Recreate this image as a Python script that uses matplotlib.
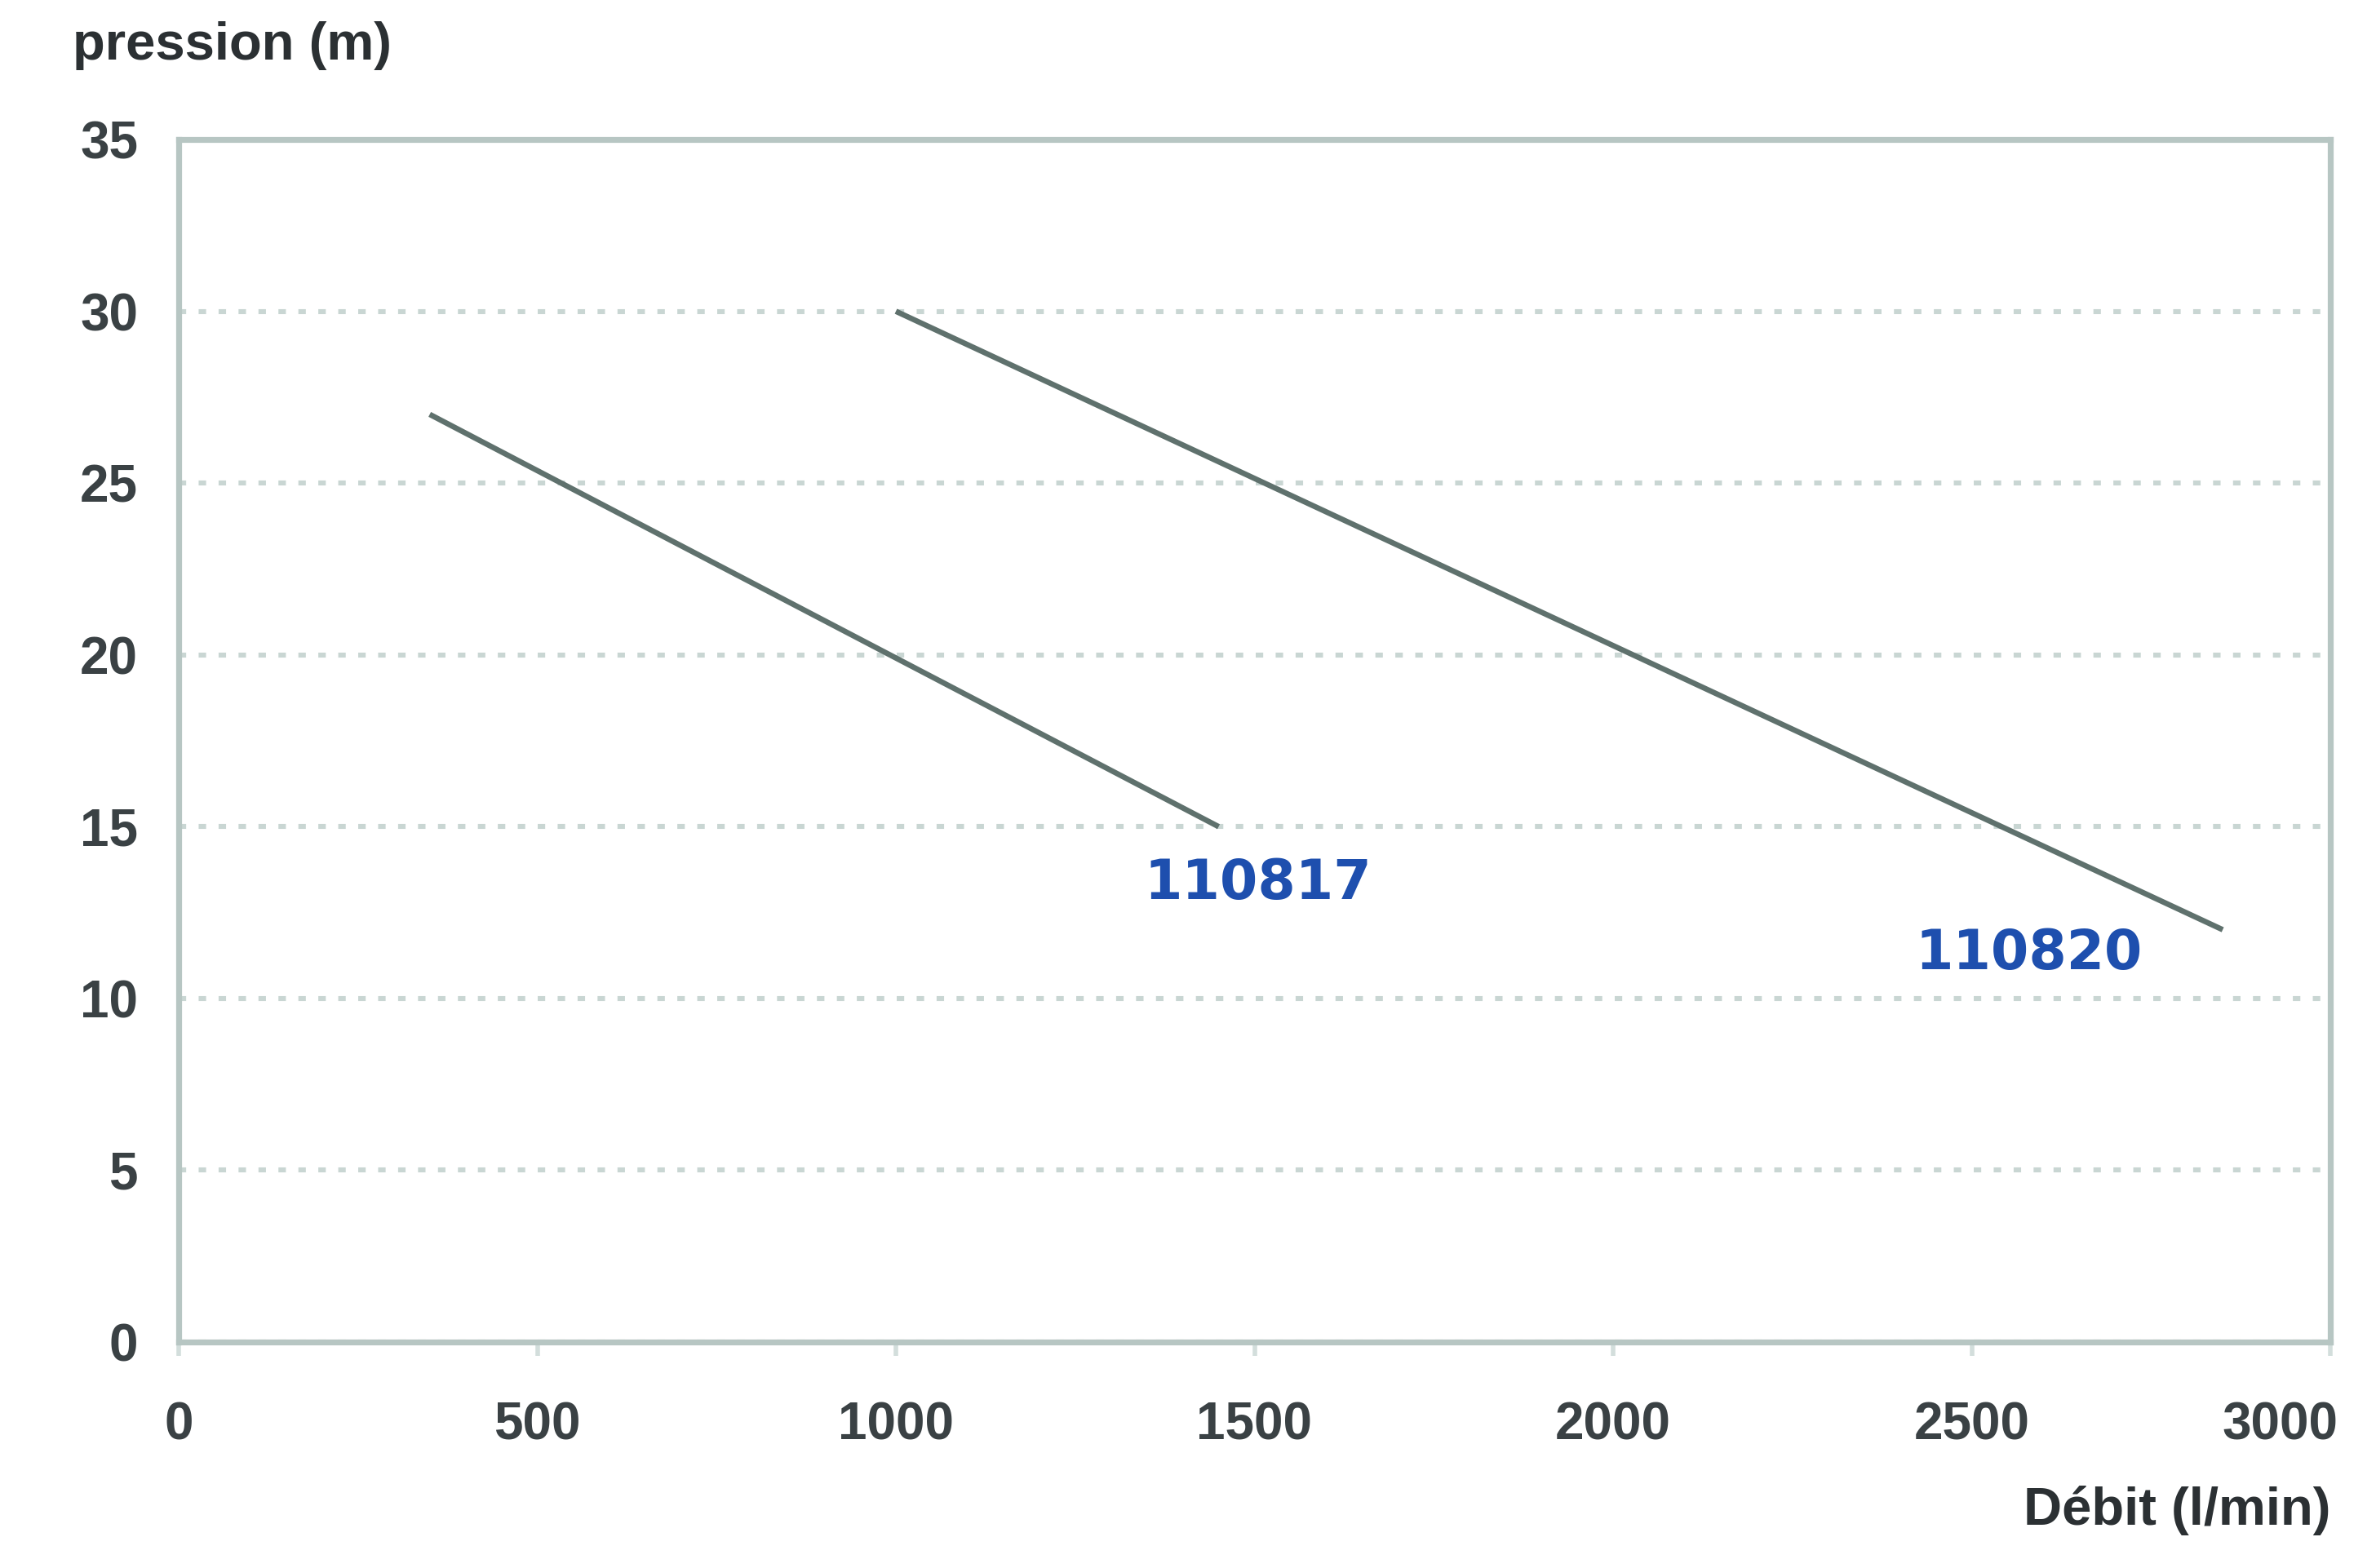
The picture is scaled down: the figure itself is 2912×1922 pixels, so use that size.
import matplotlib
matplotlib.use("Agg")
import matplotlib.pyplot as plt
import matplotlib.transforms as mtransforms

# courbes débit / pression
debit_110817 = [350, 1450]
pression_110817 = [27, 15]
debit_110820 = [1000, 2850]
pression_110820 = [30, 12]

x_ticks = [0, 500, 1000, 1500, 2000, 2500, 3000]
y_ticks = [0, 5, 10, 15, 20, 25, 30, 35]

plt.rcParams['font.family'] = ['Liberation Sans', 'DejaVu Sans']

W, H = 2912, 1922
fig = plt.figure(figsize=(W / 200, H / 200), dpi=200)
ax = fig.add_axes([219 / W, 1 - 1645 / H, (2856 - 219) / W, (1645 - 171) / H])

line_col = '#5f716d'
spine_col = '#b7c6c3'
text_col = '#3a4144'

ax.plot(debit_110817, pression_110817, color=line_col, lw=2.4, solid_capstyle='butt')
ax.plot(debit_110820, pression_110820, color=line_col, lw=2.4, solid_capstyle='butt')

ax.text(1505, 13.35, "110817", color='#1e4fae', fontsize=24, fontweight='bold',
        family='DejaVu Sans', ha='center', va='center')
ax.text(2580, 11.3, "110820", color='#1e4fae', fontsize=24, fontweight='bold',
        family='DejaVu Sans', ha='center', va='center')

ax.set_xlim(0, 3000)
ax.set_ylim(0, 35)
ax.set_xticks(x_ticks)
ax.set_yticks(y_ticks)
ax.yaxis.grid(True, linestyle=(0, (1.5, 2.5)), color='#c9d6d3', lw=2.2)
ax.set_axisbelow(True)

for s in ax.spines.values():
    s.set_color(spine_col)
    s.set_linewidth(2.6)

ax.tick_params(axis='x', length=6, width=2, color='#d3dedc', pad=20,
               labelsize=23, labelcolor=text_col)
ax.tick_params(axis='y', length=0, pad=18, labelsize=23, labelcolor=text_col)
for lab in ax.get_xticklabels() + ax.get_yticklabels():
    lab.set_fontweight('bold')

# le dernier libellé (3000) est décalé vers la gauche comme dans l'original
last = ax.get_xticklabels()[-1]
last.set_transform(last.get_transform() + mtransforms.ScaledTranslation(-62 / 200, 0, fig.dpi_scale_trans))

fig.text(48 / 1568, 1 - 30 / 1035, "pression (m)", fontsize=23.5,
         fontweight='bold', color='#2b3033', ha='left', va='center')
fig.text(1538 / 1568, 1 - 997 / 1035, "Débit (l/min)", fontsize=23.5,
         fontweight='bold', color='#2b3033', ha='right', va='center')

fig.savefig("out.png", dpi=200, facecolor='white')
